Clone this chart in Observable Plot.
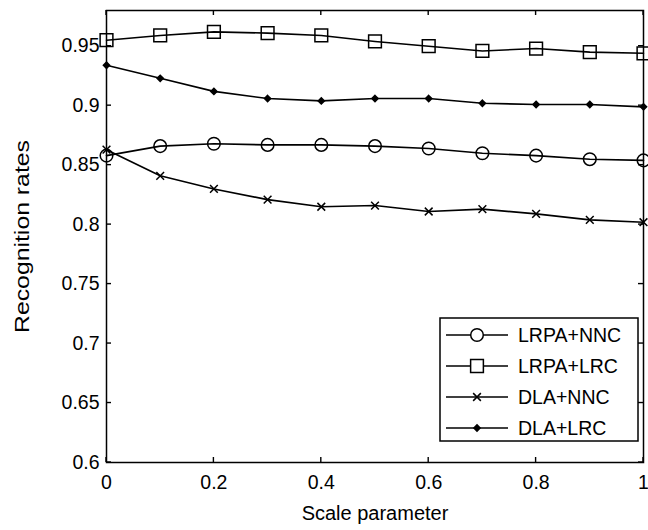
<!DOCTYPE html>
<html>
<head>
<meta charset="utf-8">
<script src="https://cdn.jsdelivr.net/npm/d3@7"></script>
<script src="https://cdn.jsdelivr.net/npm/@observablehq/plot@0.6"></script>
<style>
  body { margin: 0; background: #fff; }
  #chart svg { display: block; }
</style>
</head>
<body>
<div id="chart"></div>
<script>
// Recognition rate of each method against the scale parameter
const scaleParam = [0, 0.1, 0.2, 0.3, 0.4, 0.5, 0.6, 0.7, 0.8, 0.9, 1];
const lrpaNnc = [0.858, 0.866, 0.868, 0.867, 0.867, 0.866, 0.864, 0.860, 0.858, 0.855, 0.854];
const lrpaLrc = [0.955, 0.959, 0.962, 0.961, 0.959, 0.954, 0.950, 0.946, 0.948, 0.945, 0.944];
const dlaNnc  = [0.863, 0.841, 0.830, 0.821, 0.815, 0.816, 0.811, 0.813, 0.809, 0.804, 0.802];
const dlaLrc  = [0.934, 0.923, 0.912, 0.906, 0.904, 0.906, 0.906, 0.902, 0.901, 0.901, 0.899];

const seriesNames = ["LRPA+NNC", "LRPA+LRC", "DLA+NNC", "DLA+LRC"];
const seriesValues = [lrpaNnc, lrpaLrc, dlaNnc, dlaLrc];

const xTicks = [0, 0.2, 0.4, 0.6, 0.8, 1];
const xTickLabels = ["0", "0.2", "0.4", "0.6", "0.8", "1"];
const yTicks = [0.6, 0.65, 0.7, 0.75, 0.8, 0.85, 0.9, 0.95];
const yTickLabels = ["0.6", "0.65", "0.7", "0.75", "0.8", "0.85", "0.9", "0.95"];

// marker style per series (symbol names as Plot knows them)
const markers = {
  "LRPA+NNC": {symbol: "circle",   d3symbol: d3.symbolCircle,   r: 6.3, fill: "none"},
  "LRPA+LRC": {symbol: "square",   d3symbol: d3.symbolSquare,   r: 7.2, fill: "none"},
  "DLA+NNC":  {symbol: "times",    d3symbol: d3.symbolTimes,    r: 3.6, fill: "none"},
  "DLA+LRC":  {symbol: "diamond2", d3symbol: d3.symbolDiamond2, r: 2.8, fill: "black"}
};

const rows = seriesNames.flatMap((name, i) =>
  seriesValues[i].map((v, j) => ({series: name, x: scaleParam[j], y: v}))
);

const font = "'Liberation Sans', Arial, sans-serif";
const fs = 19.5;

const plot = Plot.plot({
  width: 648,
  height: 530,
  marginLeft: 106,
  marginRight: 5,
  marginTop: 10,
  marginBottom: 68,
  style: {fontFamily: font, fontSize: fs + "px", color: "black", background: "white"},
  x: {domain: [0, 1]},
  y: {domain: [0.6, 0.98]},
  marks: [
    // tick labels
    Plot.axisX(xTicks, {anchor: "bottom", tickSize: 0, tickPadding: 13, fontSize: fs,
      tickFormat: d => xTickLabels[xTicks.indexOf(d)], label: null}),
    Plot.axisY(yTicks, {anchor: "left", tickSize: 0, tickPadding: 7, fontSize: fs,
      tickFormat: d => yTickLabels[yTicks.indexOf(d)], label: null}),
    // axis titles
    Plot.text(["Scale parameter"], {frameAnchor: "bottom", dy: 57, fontSize: 20, fill: "black", text: d => d}),
    Plot.text(["Recognition rates"], {frameAnchor: "left", dx: -84, rotate: -90, textAnchor: "middle",
      fontSize: 21, fill: "black", text: d => d, className: "ylabel"}),
    // curves and markers
    Plot.line(rows, {x: "x", y: "y", z: "series", stroke: "black", strokeWidth: 1.6}),
    ...seriesNames.map(name => Plot.dot(rows.filter(d => d.series === name), {
      x: "x", y: "y",
      symbol: () => markers[name].symbol,
      r: markers[name].r,
      stroke: "black",
      strokeWidth: 1.5,
      fill: markers[name].fill
    })),
    Plot.frame({stroke: "black", strokeWidth: 1.5})
  ]
});

document.getElementById("chart").appendChild(plot);

const svg = d3.select(plot);
const sx = plot.scale("x"), sy = plot.scale("y");
const [x0, x1] = sx.range;
const [y0, y1] = sy.range;

// stretch the vertical axis title along its length
svg.selectAll(".ylabel text").attr("textLength", 193).attr("lengthAdjust", "spacingAndGlyphs");

// short inward tick marks on all four sides of the box
(function drawTicks() {
  const len = 5;
  const g = svg.append("g").attr("stroke", "black").attr("stroke-width", 1.4);
  xTicks.forEach(t => {
    const x = sx.apply(t);
    g.append("line").attr("x1", x).attr("x2", x).attr("y1", y0).attr("y2", y0 - len);
    g.append("line").attr("x1", x).attr("x2", x).attr("y1", y1).attr("y2", y1 + len);
  });
  yTicks.forEach(t => {
    const y = sy.apply(t);
    g.append("line").attr("x1", x0).attr("x2", x0 + len).attr("y1", y).attr("y2", y);
    g.append("line").attr("x1", x1).attr("x2", x1 - len).attr("y1", y).attr("y2", y);
  });
})();

// legend box in the lower-right corner of the frame
(function drawLegend() {
  const boxW = 198, boxH = 123, rowH = 31;
  const left = x1 - 5 - boxW;
  const top = y0 - 21 - boxH;
  const g = svg.append("g").attr("font-family", font).attr("font-size", fs);
  g.append("rect")
    .attr("x", left).attr("y", top).attr("width", boxW).attr("height", boxH)
    .attr("fill", "white").attr("stroke", "black").attr("stroke-width", 1.5);
  seriesNames.forEach((name, i) => {
    const cy = top + 17 + i * rowH;
    const m = markers[name];
    g.append("line")
      .attr("x1", left + 6).attr("x2", left + 68).attr("y1", cy).attr("y2", cy)
      .attr("stroke", "black").attr("stroke-width", 1.6);
    g.append("path")
      .attr("transform", `translate(${left + 37},${cy})`)
      .attr("d", d3.symbol(m.d3symbol, Math.PI * m.r * m.r)())
      .attr("fill", m.fill === "none" ? "white" : m.fill)
      .attr("stroke", "black").attr("stroke-width", 1.5);
    g.append("text")
      .attr("x", left + 78).attr("y", cy).attr("dy", "0.35em")
      .attr("text-anchor", "start")
      .attr("fill", "black")
      .text(name);
  });
})();
</script>
</body>
</html>
